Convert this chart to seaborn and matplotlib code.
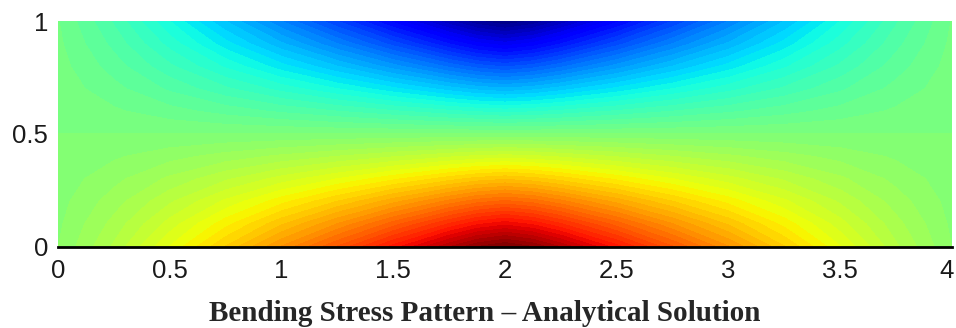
import numpy as np
import matplotlib
matplotlib.use("Agg")
import matplotlib.pyplot as plt
import matplotlib.transforms as mtransforms
import seaborn as sns

# ---- data ----
x_nodes = [0.0, 0.25, 0.5, 0.75, 1.0, 1.25, 1.5, 1.75, 1.875, 2.0,
           2.125, 2.25, 2.5, 2.75, 3.0, 3.25, 3.5, 3.75, 4.0]
# relative bending moment along the span (rounded peak at mid-span)
moment = [0.03, 0.13, 0.25, 0.375, 0.5, 0.625, 0.76, 0.9, 0.965, 1.0,
          0.965, 0.9, 0.76, 0.625, 0.5, 0.375, 0.25, 0.13, 0.03]
y_nodes = [0.0, 0.1, 0.2, 0.3, 0.4, 0.5, 0.6, 0.7, 0.8, 0.9, 1.0]
# distance from neutral axis (tension at the bottom fibre)
fibre = [0.5, 0.4, 0.3, 0.2, 0.1, 0.0, -0.1, -0.2, -0.3, -0.4, -0.5]

x_ticks = [0, 0.5, 1, 1.5, 2, 2.5, 3, 3.5, 4]
x_tick_labels = ["0", "0.5", "1", "1.5", "2", "2.5", "3", "3.5", "4"]
y_ticks = [0, 0.5, 1]
y_tick_labels = ["0", "0.5", "1"]
title = "Bending Stress Pattern \u2013 Analytical Solution"

# ---- figure ----
sns.set_style("white")
plt.rcParams["font.family"] = ["Liberation Sans", "DejaVu Sans"]

fig = plt.figure(figsize=(9.56, 3.28), dpi=100)
ax = fig.add_axes([58 / 956, 1 - 246.5 / 328, (952 - 58) / 956, (246.5 - 21.5) / 328])

X, Y = np.meshgrid(np.array(x_nodes), np.array(y_nodes))
Z = np.outer(np.array(fibre), np.array(moment))

cmap = matplotlib.colormaps["jet"]
levels = np.linspace(-0.5, 0.5, 65)
cs = ax.contourf(X, Y, Z, levels=levels, cmap=cmap, vmin=-0.5, vmax=0.5,
                 antialiased=False)
cs.set_edgecolor("face")
cs.set_linewidth(0.4)

ax.set_xlim(0, 4)
ax.set_ylim(0, 1)
ax.set_xticks(x_ticks)
ax.set_xticklabels(x_tick_labels)
ax.set_yticks(y_ticks)
ax.set_yticklabels(y_tick_labels)
ax.tick_params(axis="x", length=0, pad=9, labelsize=18.5, colors="#1a1a1a")
ax.tick_params(axis="y", length=0, pad=7, labelsize=18.5, colors="#1a1a1a")

# keep the last x label inside the image
last = ax.get_xticklabels()[-1]
last.set_transform(last.get_transform() +
                   mtransforms.ScaledTranslation(-5 / 100, 0, fig.dpi_scale_trans))

for s in ["top", "left", "right"]:
    ax.spines[s].set_visible(False)
ax.spines["bottom"].set_color("black")
ax.spines["bottom"].set_linewidth(2)

fig.text(485 / 956, 1 - 321 / 328, title, ha="center", va="baseline",
         fontsize=21, fontweight="bold", family=["Liberation Serif", "DejaVu Serif"])

fig.savefig("out.png", dpi=100)
